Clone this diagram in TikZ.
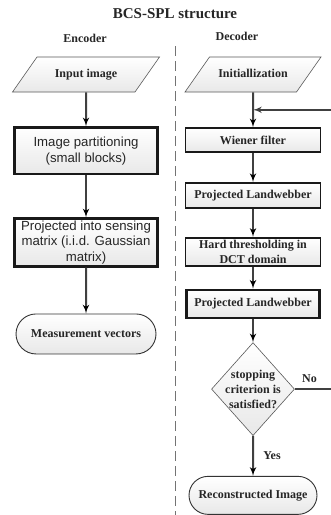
\documentclass[tikz,border=0pt]{standalone}
\usepackage{fontspec}
\setmainfont{Liberation Serif}
\setsansfont{Liberation Sans}
\usepackage{tikz}
\usetikzlibrary{arrows, positioning, shapes}

\tikzset{
  txt/.style  ={font=\fontsize{12}{15}\selectfont\bfseries, text=black!85},
  sans/.style ={font=\fontsize{13.2}{15.5}\selectfont\sffamily, text=black!85},
  io/.style   ={draw=black!65, line width=0.6pt, trapezium, trapezium left angle=55,
                trapezium right angle=125, trapezium stretches body, top color=white,
                bottom color=black!9, text height=9pt, text depth=3pt,
                inner xsep=1pt, inner ysep=11.5pt, txt},
  proc/.style ={draw=black!90, rectangle, top color=white, bottom color=black!9,
                inner sep=1pt, align=center, txt},
  term/.style ={draw=black!80, line width=0.9pt, rounded rectangle, top color=white,
                bottom color=black!9, inner sep=1pt, txt},
  cond/.style ={draw=black!65, line width=0.6pt, diamond, top color=white,
                bottom color=black!9, inner sep=0pt, minimum width=83pt, minimum height=93pt},
  link/.style ={draw=black!75, line width=2pt, -latex'},
}

\begin{document}
\begin{tikzpicture}[]

\useasboundingbox (0,0) rectangle (331pt,-515pt);

\node [txt, font=\fontsize{15}{17}\selectfont\bfseries] (title)   at (175pt,-14pt) {BCS-SPL structure};
\node [txt                                          ] (enclbl)  at (85pt,-38pt)  {Encoder};
\node [txt                                          ] (declbl)  at (237pt,-36pt) {Decoder};

\draw [black!55, line width=0.8pt, dash pattern=on 10pt off 5pt] (175pt,-46pt) -- (175pt,-515pt);

% encoder
\node [io,   minimum width=147pt                                          ] (in)   at (86pt,-74.5pt) {Input image};
\node [proc, sans, line width=2.6pt, minimum width=143.5pt, minimum height=46.5pt, below=34pt of in  ] (part) {Image partitioning\\(small blocks)};
\node [proc, sans, line width=2.6pt, minimum width=143.5pt, minimum height=47.5pt, below=42pt of part] (proj) {Projected into sensing\\matrix (i.i.d. Gaussian\\matrix)};
\node [term, minimum width=142pt, minimum height=40pt,                     below=46pt of proj] (meas) {Measurement vectors};

% decoder
\node [io,   minimum width=136pt                                          ] (init)   at (253pt,-74.5pt) {Initiallization};
\node [proc, line width=1.8pt, minimum width=135pt, minimum height=24pt,   below=35pt of init  ] (wiener) {Wiener filter};
\node [proc, line width=1.8pt, minimum width=135pt, minimum height=25pt,   below=29pt of wiener] (pl1)    {Projected Landwebber};
\node [proc, line width=1.8pt, minimum width=135pt, minimum height=28pt,   below=28pt of pl1   ] (hard)   {Hard thresholding in\\DCT domain};
\node [proc, line width=2.6pt, minimum width=133pt, minimum height=28pt,   below=22pt of hard  ] (pl2)    {Projected Landwebber};
\node [cond, label={[txt, align=center]center:{stopping\\criterion is\\satisfied?}}, below=23pt of pl2] (dec) {};
\node [term, minimum width=130pt, minimum height=38pt,                     below=40pt of dec   ] (rec)    {Reconstructed Image};
\coordinate [below=17.5pt of init] (fb);

\path [link] (in)     edge (part);
\path [link] (part)   edge (proj);
\path [link] (proj)   edge (meas);
\path [link] (init)   edge (wiener);
\path [link] (wiener) edge (pl1);
\path [link] (pl1)    edge (hard);
\path [link] (hard)   edge (pl2);
\path [link] (pl2)    edge (dec);
\path [link] (dec)    edge node [right, txt, xshift=6pt] {Yes} (rec);
\draw [link] (dec.east) -- node [pos=0.35, above, txt, yshift=2pt] {No} ++(42pt,0) |- (fb);

\end{tikzpicture}
\end{document}
